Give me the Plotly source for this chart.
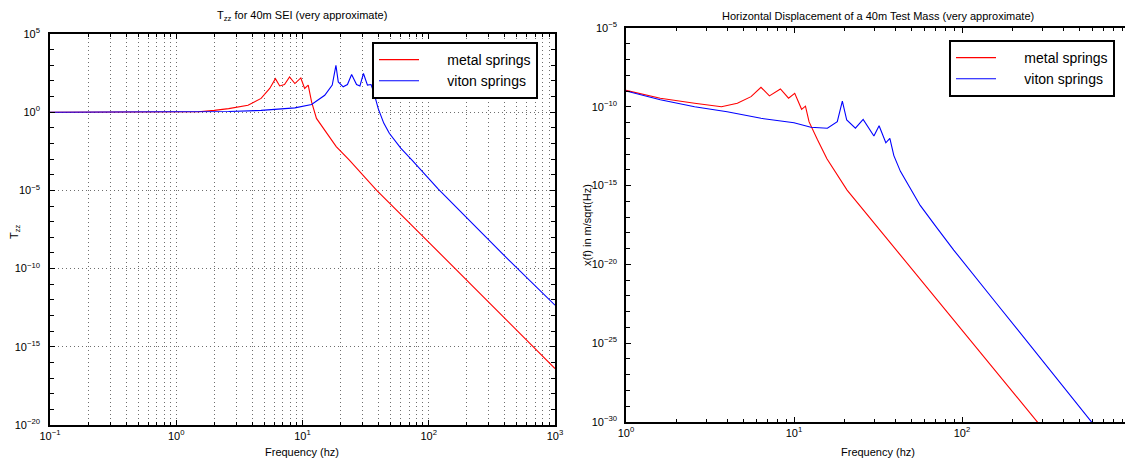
import plotly.graph_objects as go

# ---------------- data ----------------
# Left panel: T_zz transfer function
tzz_metal_f = [0.1, 0.3, 0.6, 1.0, 1.5, 2.0, 2.6, 3.7, 4.7, 5.5, 6.1, 6.6, 7.2, 7.9, 8.7, 9.7,
               10.4, 11.1, 11.8, 12.9, 15.5, 18.5, 23.5, 38.7, 87.0, 195.0, 562.0, 1000.0]
tzz_metal_v = [1.0, 1.0, 1.01, 1.03, 1.08, 1.3, 1.7, 2.8, 7.6, 33.0, 140.0, 48.0, 59.0, 180.0, 68.0, 155.0,
               33.0, 54.0, 4.6, 0.4, 4.5e-2, 6.3e-3, 8.5e-4, 1.0e-5, 1.5e-8, 2.2e-11, 4.3e-15, 4.1e-17]

tzz_viton_f = [0.1, 1.0, 2.6, 4.7, 8.7, 11.8, 15.0, 17.2, 17.9, 18.4, 19.2, 21.0, 22.7, 24.5, 26.8,
               28.5, 30.4, 32.7, 34.9, 36.6, 39.8, 44.0, 48.7, 60.0, 74.3, 118.6, 195.0, 412.0, 1000.0]
tzz_viton_v = [1.0, 1.02, 1.1, 1.3, 1.9, 3.1, 12.0, 54.0, 380.0, 1.0e3, 87.0, 42.0, 59.0, 260.0, 59.0,
               48.0, 300.0, 54.0, 59.0, 20.0, 1.7, 0.2, 4.5e-2, 5.0e-3, 7.9e-4, 1.26e-5, 2.2e-7, 5.0e-10,
               4.6e-13]

# Right panel: horizontal displacement x(f) in m/sqrt(Hz)
x_metal_f = [1.0, 1.6, 2.56, 3.7, 4.6, 5.55, 6.36, 7.14, 8.3, 9.28, 10.1, 11.1, 11.7, 12.3, 13.8,
             15.7, 20.7, 35.8, 64.7, 128.0, 284.0, 1000.0]
x_metal_v = [1.1e-9, 3.5e-10, 1.66e-10, 1.0e-10, 1.66e-10, 4.4e-10, 1.74e-9, 4.9e-10, 1.35e-9, 3.5e-10,
             7.2e-10, 6.9e-11, 1.1e-10, 1.1e-11, 8.0e-13, 5.0e-14, 5.2e-16, 4.3e-19, 1.95e-22, 2.7e-26,
             8.7e-31, 6.0e-38]

x_viton_f = [1.0, 1.6, 2.56, 4.0, 6.36, 10.0, 12.6, 15.8, 18.1, 19.4, 20.6, 23.2, 25.8, 29.9, 32.1,
             35.2, 37.2, 39.3, 43.0, 48.0, 56.4, 70.0, 89.3, 161.0, 318.0, 596.0, 1000.0]
x_viton_v = [1.0e-9, 2.8e-10, 1.0e-10, 4.9e-11, 1.86e-11, 9.8e-12, 5.0e-12, 4.4e-12, 1.15e-11, 2.3e-10,
             1.45e-11, 4.4e-12, 1.6e-11, 1.4e-12, 6.3e-12, 5.2e-13, 1.0e-12, 8.0e-14, 8.0e-15, 1.1e-15,
             5.5e-17, 2.5e-18, 8.1e-20, 3.2e-23, 3.7e-27, 8.9e-31, 9.1e-34]

series_names = ["metal springs", "viton springs"]
series_colors = ["#ff0000", "#0000ff"]

left_x_ticks = [0.1, 1, 10, 100, 1000]
left_x_labels = ["10<sup>\u22121</sup>", "10<sup>0</sup>", "10<sup>1</sup>", "10<sup>2</sup>", "10<sup>3</sup>"]
left_y_ticks = [1e5, 1e0, 1e-5, 1e-10, 1e-15, 1e-20]
left_y_labels = ["10<sup>5</sup>", "10<sup>0</sup>", "10<sup>\u22125</sup>", "10<sup>\u221210</sup>",
                 "10<sup>\u221215</sup>", "10<sup>\u221220</sup>"]
right_x_ticks = [1, 10, 100, 1000]
right_x_labels = ["10<sup>0</sup>", "10<sup>1</sup>", "10<sup>2</sup>", "10<sup>3</sup>"]
right_y_ticks = [1e-5, 1e-10, 1e-15, 1e-20, 1e-25, 1e-30]
right_y_labels = ["10<sup>\u22125</sup>", "10<sup>\u221210</sup>", "10<sup>\u221215</sup>",
                  "10<sup>\u221220</sup>", "10<sup>\u221225</sup>", "10<sup>\u221230</sup>"]

# ---------------- figure ----------------
# the page body has an 8px margin, so the figure is laid out in window pixels minus that offset
OFF = 8
W, H = 1133 - OFF, 459 - OFF
FONT = "Liberation Sans, Arial, Helvetica, sans-serif"


def px(x):
    return (x - OFF) / W


def py(y):
    return 1 - (y - OFF) / H


def minor_decades(lo, hi):
    out = []
    for e in range(lo, hi):
        for m in range(2, 10):
            out.append(m * 10.0 ** e)
    return out


def between_majors(lo, hi, majors):
    return [10.0 ** e for e in range(lo, hi + 1) if 10.0 ** e not in majors]


fig = go.Figure()
pad = "\u00a0" * 6
fig.add_trace(go.Scatter(x=tzz_metal_f, y=tzz_metal_v, mode="lines", name=pad + series_names[0],
                         line=dict(color=series_colors[0], width=1.1), xaxis="x", yaxis="y", legend="legend"))
fig.add_trace(go.Scatter(x=tzz_viton_f, y=tzz_viton_v, mode="lines", name=pad + series_names[1],
                         line=dict(color=series_colors[1], width=1.1), xaxis="x", yaxis="y", legend="legend"))
fig.add_trace(go.Scatter(x=x_metal_f, y=x_metal_v, mode="lines", name=pad + series_names[0],
                         line=dict(color=series_colors[0], width=1.1), xaxis="x2", yaxis="y2", legend="legend2"))
fig.add_trace(go.Scatter(x=x_viton_f, y=x_viton_v, mode="lines", name=pad + series_names[1],
                         line=dict(color=series_colors[1], width=1.1), xaxis="x2", yaxis="y2", legend="legend2"))

axis_common = dict(type="log", showline=True, linecolor="black", linewidth=1.6, mirror="ticks",
                   ticks="inside", ticklen=5, tickwidth=1, tickcolor="black", zeroline=False,
                   automargin=False,
                   tickfont=dict(family=FONT, size=11, color="black"), tickmode="array")

grid_style = dict(gridcolor="#6e6e6e", gridwidth=1, griddash="1px,3px")

fig.update_layout(
    width=W, height=H, margin=dict(l=0, r=0, t=0, b=0, autoexpand=False),
    paper_bgcolor="white", plot_bgcolor="white", showlegend=True,
    font=dict(family=FONT, size=11, color="black"),
    xaxis=dict(axis_common, domain=[px(50), px(555)], range=[-1, 3], anchor="y",
               tickvals=left_x_ticks, ticktext=left_x_labels, showgrid=True, **grid_style,
               minor=dict(tickmode="array", tickvals=minor_decades(-1, 3), ticks="inside", ticklen=3,
                          tickcolor="black", showgrid=True, **grid_style)),
    yaxis=dict(axis_common, domain=[py(425), py(34)], range=[-20, 5], anchor="x",
               tickvals=left_y_ticks, ticktext=left_y_labels, showgrid=True, **grid_style,
               ticklabelstandoff=6,
               minor=dict(tickmode="array", tickvals=between_majors(-20, 5, left_y_ticks), ticks="inside",
                          ticklen=4, tickcolor="black", showgrid=False)),
    xaxis2=dict(axis_common, domain=[px(626), px(1130)], range=[0, 3], anchor="y2",
                tickvals=right_x_ticks, ticktext=right_x_labels, showgrid=False,
                minor=dict(tickmode="array", tickvals=minor_decades(0, 3), ticks="inside", ticklen=3,
                           tickcolor="black", showgrid=False)),
    yaxis2=dict(axis_common, domain=[py(422), py(28)], range=[-30, -5], anchor="x2",
                tickvals=right_y_ticks, ticktext=right_y_labels, showgrid=False,
                ticklabelstandoff=5,
                minor=dict(tickmode="array", tickvals=between_majors(-30, -5, right_y_ticks), ticks="inside",
                           ticklen=4, tickcolor="black", showgrid=False)),
    legend=dict(x=px(372), y=py(42), xanchor="left", yanchor="top", bgcolor="white",
                bordercolor="black", borderwidth=2, font=dict(family=FONT, size=14, color="black"),
                itemwidth=40, tracegroupgap=0),
    legend2=dict(x=px(949), y=py(40), xanchor="left", yanchor="top", bgcolor="white",
                 bordercolor="black", borderwidth=2, font=dict(family=FONT, size=14, color="black"),
                 itemwidth=40, tracegroupgap=0),
)

ann = []
ann.append(dict(text="T<sub>zz</sub> for 40m SEI (very approximate)", x=px(302), y=py(16),
                xref="paper", yref="paper", showarrow=False, xanchor="center", yanchor="middle",
                font=dict(family=FONT, size=11)))
ann.append(dict(text="Horizontal Displacement of a 40m Test Mass (very approximate)", x=px(878), y=py(16),
                xref="paper", yref="paper", showarrow=False, xanchor="center", yanchor="middle",
                font=dict(family=FONT, size=11)))
ann.append(dict(text="Frequency (hz)", x=px(302), y=py(452), xref="paper", yref="paper",
                showarrow=False, xanchor="center", yanchor="middle", font=dict(family=FONT, size=11)))
ann.append(dict(text="Frequency (hz)", x=px(878), y=py(452), xref="paper", yref="paper",
                showarrow=False, xanchor="center", yanchor="middle", font=dict(family=FONT, size=11)))
ann.append(dict(text="T<sub>zz</sub>", x=px(15), y=py(232), xref="paper", yref="paper", textangle=-90,
                showarrow=False, xanchor="center", yanchor="middle", font=dict(family=FONT, size=11)))
ann.append(dict(text="x(f) in m/sqrt(Hz)", x=px(587), y=py(225), xref="paper", yref="paper", textangle=-90,
                showarrow=False, xanchor="center", yanchor="middle", font=dict(family=FONT, size=11)))
fig.update_layout(annotations=ann)

fig.write_html("out.html")
